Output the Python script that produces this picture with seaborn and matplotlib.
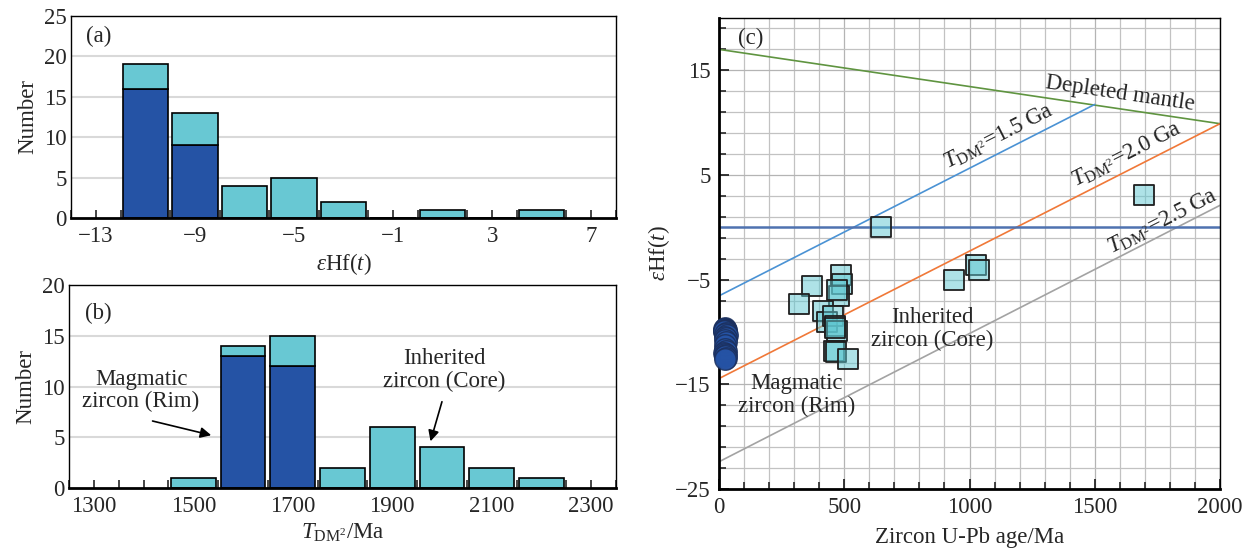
import numpy as np
import pandas as pd
import matplotlib
matplotlib.use("Agg")
import matplotlib.pyplot as plt
import seaborn as sns

# ---------------- data ----------------
eps_centers = [-11, -9, -7, -5, -3, -1, 1, 3, 5]
eps_magmatic = [16, 9, 0, 0, 0, 0, 0, 0, 0]
eps_inherited = [3, 4, 4, 5, 2, 0, 1, 0, 1]

tdm_centers = [1500, 1600, 1700, 1800, 1900, 2000, 2100, 2200]
tdm_magmatic = [0, 13, 12, 0, 0, 0, 0, 0]
tdm_inherited = [1, 1, 3, 2, 6, 4, 2, 1]

mag_age = [22, 25, 20, 28, 24, 19, 26, 23, 21, 27, 24, 30, 22, 26, 25,
           28, 23, 24, 27, 21, 25, 26, 22, 28, 24]
mag_eps = [-9.6, -9.7, -9.7, -9.8, -9.8, -9.9, -9.9, -9.95, -9.95, -10.1,
           -10.2, -10.3, -10.5, -10.6, -10.8, -11.0, -11.2, -11.6, -11.8,
           -12.0, -12.1, -12.2, -12.3, -12.5, -12.6]

inh_age = [370, 320, 487, 490, 480, 415, 430, 455, 463, 470, 465, 458, 468,
           516, 472, 645, 939, 1025, 1039, 1697]
inh_eps = [-5.6, -7.3, -4.6, -5.4, -6.6, -8.0, -9.0, -8.5, -9.4, -9.9, -9.6,
           -11.8, -11.9, -12.6, -6.0, 0.0, -5.0, -3.6, -4.1, 3.1]

dm_age = [0, 2000]
dm_eps = [17.0, 9.9]
t15_age = [0, 1500]
t15_eps = [-6.55, 11.74]
t20_age = [0, 2000]
t20_eps = [-14.45, 9.9]
t25_age = [0, 2000]
t25_eps = [-22.4, 2.1]

# ---------------- style ----------------
sns.set_style("white")
plt.rcParams["font.family"] = ["Liberation Serif", "DejaVu Serif"]
plt.rcParams["mathtext.fontset"] = "custom"
plt.rcParams["mathtext.rm"] = "Liberation Serif"
plt.rcParams["mathtext.it"] = "Liberation Serif:italic"
plt.rcParams["axes.unicode_minus"] = True
FS = 16.5

DARK = "#2553a5"
LIGHT = "#68c8d3"

fig = plt.figure(figsize=(12.5, 5.48), dpi=100)
ax_a = fig.add_axes([0.0568, 0.6022, 0.436, 0.3686])
ax_b = fig.add_axes([0.0552, 0.1095, 0.4376, 0.3704])
ax_c = fig.add_axes([0.5752, 0.1077, 0.4008, 0.8595])


def long_df(centers, mag, inh):
    rows = []
    for c, m, i in zip(centers, mag, inh):
        rows.append({"x": c, "n": m, "type": "Magmatic"})
        rows.append({"x": c, "n": i, "type": "Inherited"})
    return pd.DataFrame(rows)


def hist_panel(ax, df, binrange, binwidth, shrink, xlim, ylim, xticks, xminor):
    for yv in range(5, ylim[1] + 1, 5):
        ax.axhline(yv, color="#d9d9d9", lw=1.5, zorder=0.2)
    sns.histplot(data=df, x="x", weights="n", hue="type",
                 hue_order=["Inherited", "Magmatic"],
                 palette={"Magmatic": DARK, "Inherited": LIGHT},
                 multiple="stack", binrange=binrange, binwidth=binwidth,
                 shrink=shrink, alpha=1, edgecolor="black", linewidth=1.2,
                 legend=False, ax=ax, zorder=1)
    ax.set_xlim(*xlim)
    ax.set_ylim(*ylim)
    ax.set_xticks(xticks)
    ax.set_xticks(xminor, minor=True)
    ax.set_yticks(range(0, ylim[1] + 1, 5))
    ax.tick_params(axis="x", which="both", direction="in", length=6,
                   width=1.2, labelsize=FS, bottom=True, pad=6)
    ax.tick_params(axis="y", which="both", length=0, labelsize=FS, pad=3)
    for s in ax.spines.values():
        s.set_color("black")
        s.set_linewidth(1.0)
    ax.spines["bottom"].set_linewidth(2.0)
    ax.set_ylabel("Number", fontsize=FS, labelpad=4)


# ---- panel (a)
df_a = long_df(eps_centers, eps_magmatic, eps_inherited)
hist_panel(ax_a, df_a, (-12, 6), 2, 0.92, (-14, 8), (0, 25),
           [-13, -9, -5, -1, 3, 7], np.arange(-14, 9, 1))
ax_a.set_xlabel(r"$\varepsilon$Hf($t$)", fontsize=FS, labelpad=3)
ax_a.text(0.05, 0.90, "(a)", transform=ax_a.transAxes, fontsize=FS,
          ha="center", va="center")

# ---- panel (b)
df_b = long_df(tdm_centers, tdm_magmatic, tdm_inherited)
hist_panel(ax_b, df_b, (1450, 2250), 100, 0.9, (1250, 2350), (0, 20),
           [1300, 1500, 1700, 1900, 2100, 2300], np.arange(1250, 2351, 50))
ax_b.set_xlabel(r"$T_{\mathrm{DM}^2}$/Ma", fontsize=FS, labelpad=3)
ax_b.text(0.053, 0.86, "(b)", transform=ax_b.transAxes, fontsize=FS,
          ha="center", va="center")
ax_b.text(1395, 9.6, "Magmatic\nzircon (Rim)", fontsize=FS, ha="center",
          va="center", linespacing=1.1)
ax_b.text(2005, 11.6, "Inherited\nzircon (Core)", fontsize=FS, ha="center",
          va="center", linespacing=1.1)
arrow = dict(arrowstyle="-|>", color="black", lw=1.2, mutation_scale=16,
             shrinkA=0, shrinkB=0)
ax_b.annotate("", xy=(1536, 5.2), xytext=(1418, 6.6), arrowprops=arrow)
ax_b.annotate("", xy=(1977, 4.6), xytext=(2000, 8.5), arrowprops=arrow)

# ---- panel (c)
ax = ax_c
ax.set_xlim(0, 2000)
ax.set_ylim(-25, 20)
ax.set_xticks([0, 500, 1000, 1500, 2000])
ax.set_xticks(np.arange(0, 2001, 100), minor=True)
ax.set_yticks([-25, -15, -5, 5, 15])
ax.set_yticks(np.arange(-25, 20, 2), minor=True)
ax.grid(which="minor", color="#c2c2c2", lw=0.9)
ax.grid(which="major", color="#b4b4b4", lw=0.9)
ax.set_axisbelow(True)
ax.tick_params(which="major", direction="in", length=7, width=1.3,
               labelsize=FS, bottom=True, left=True, pad=6)
ax.tick_params(which="minor", direction="in", length=5, width=1.2,
               bottom=True, left=True)
for s in ax.spines.values():
    s.set_color("black")
    s.set_linewidth(1.0)
ax.spines["bottom"].set_linewidth(2.0)
ax.spines["left"].set_linewidth(2.0)

sns.lineplot(x=dm_age, y=dm_eps, color="#5f9440", lw=1.2, ax=ax)
sns.lineplot(x=t15_age, y=t15_eps, color="#4a92d4", lw=1.2, ax=ax)
sns.lineplot(x=t20_age, y=t20_eps, color="#f07838", lw=1.2, ax=ax)
sns.lineplot(x=t25_age, y=t25_eps, color="#a3a3a3", lw=1.2, ax=ax)
ax.axhline(0, color="#4f72b0", lw=1.8)

sns.scatterplot(x=mag_age, y=mag_eps, marker="o", s=240, color=DARK,
                edgecolor="#1b2f5c", linewidth=1.0, alpha=0.85, ax=ax,
                zorder=3, clip_on=False)
sns.scatterplot(x=inh_age, y=inh_eps, marker="s", s=195,
                color=(0.37, 0.78, 0.82, 0.5), edgecolor="#1f1f1f",
                linewidth=1.3, ax=ax, zorder=4)

ax.text(1600, 12.8, "Depleted mantle", fontsize=FS, rotation=-8.4,
        ha="center", va="center", rotation_mode="anchor")
ax.text(1117, 8.7, r"$T_{\mathrm{DM}^2}$=1.5 Ga", fontsize=FS, rotation=27,
        ha="center", va="center", rotation_mode="anchor")
ax.text(1626, 6.96, r"$T_{\mathrm{DM}^2}$=2.0 Ga", fontsize=FS, rotation=27,
        ha="center", va="center", rotation_mode="anchor")
ax.text(1770, 0.58, r"$T_{\mathrm{DM}^2}$=2.5 Ga", fontsize=FS, rotation=27,
        ha="center", va="center", rotation_mode="anchor")
ax.text(852, -9.7, "Inherited\nzircon (Core)", fontsize=FS, ha="center",
        va="center", linespacing=1.1)
ax.text(310, -16.0, "Magmatic\nzircon (Rim)", fontsize=FS, ha="center",
        va="center", linespacing=1.1)
ax.text(127, 18.0, "(c)", fontsize=FS, ha="center", va="center")
ax.set_xlabel("Zircon U-Pb age/Ma", fontsize=FS, labelpad=6)
ax.set_ylabel(r"$\varepsilon$Hf($t$)", fontsize=FS, labelpad=2)

fig.savefig("out.png", dpi=100)
